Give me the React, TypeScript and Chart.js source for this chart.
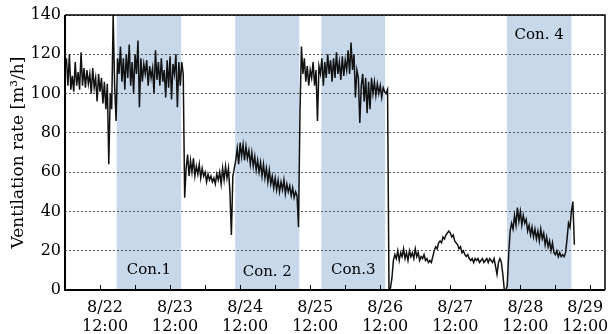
import React, { useEffect, useRef } from "react";
import { Chart, registerables } from "chart.js";

Chart.register(...registerables);

// ---- data (hours counted from 8/22 00:00, one reading every 0.5 h) ----
const SAMPLE_STEP_HOURS = 0.5;
const segmentStarts = [0.5, 18.5, 40.5, 58.5, 81.5, 88.5, 111, 151.5];

const beforeCon1 = [118, 104, 120, 102, 109, 101, 116, 104, 111, 102, 121, 104, 113, 103, 112, 105, 110, 100, 113, 103, 108, 96, 110, 101, 108, 95, 106, 92, 105, 64, 100, 92, 140, 104, 86, 118];
const con1 = [110, 124, 106, 118, 102, 120, 108, 125, 104, 116, 100, 120, 110, 127, 93, 118, 106, 115, 110, 117, 104, 114, 108, 113, 100, 122, 107, 116, 104, 118, 106, 112, 98, 117, 103, 119, 97, 115, 110, 120, 93, 116, 104, 116];
const between12 = [110, 47, 62, 69, 58, 66, 60, 67, 58, 63, 59, 64, 57, 62, 58, 60, 55, 59, 56, 58, 55, 57, 54, 59, 56, 60, 54, 62, 56, 63, 57, 62, 50, 28, 58, 62];
const con2 = [66, 72, 64, 75, 68, 74, 66, 73, 67, 71, 64, 70, 63, 68, 61, 66, 60, 65, 58, 64, 57, 62, 55, 61, 54, 58, 52, 57, 51, 56, 50, 55, 51, 56, 49, 54, 50, 53, 48, 52, 47, 50, 48, 32, 90, 124];
const between23 = [110, 118, 106, 114, 104, 112, 108, 116, 104, 112, 86, 114, 110, 118];
const con3 = [104, 116, 108, 120, 110, 117, 106, 118, 108, 121, 110, 116, 107, 119, 109, 117, 112, 122, 110, 126, 112, 120, 98, 112, 108, 85, 104, 110, 96, 108, 90, 106, 92, 108, 100, 106, 99, 105, 100, 104, 98, 103, 101, 100, 102];
const between34 = [0, 1, 6, 15, 18, 16, 20, 15, 19, 17, 21, 16, 19, 15, 20, 17, 19, 16, 21, 17, 19, 15, 17, 16, 18, 15, 16, 14, 15, 14, 17, 20, 22, 21, 24, 25, 24, 27, 26, 28, 29, 30, 29, 27, 28, 25, 24, 23, 21, 22, 19, 20, 18, 17, 18, 16, 15, 16, 14, 16, 15, 16, 14, 15, 16, 14, 15, 16, 14, 16, 15, 14, 16, 12, 8, 14, 16, 14, 8, 0, 0];
const con4 = [2, 18, 30, 34, 31, 38, 33, 42, 35, 40, 33, 38, 34, 36, 30, 33, 28, 32, 27, 31, 26, 30, 25, 31, 26, 29, 23, 27, 22, 25, 20, 24, 19, 18, 20, 17, 19, 17, 18, 17, 19, 26, 34, 32, 40, 45, 23];

const segments = [beforeCon1, con1, between12, con2, between23, con3, between34, con4];

const dayTickHours = [12, 36, 60, 84, 108, 132, 156, 180];
const dayLabels = ["8/22", "8/23", "8/24", "8/25", "8/26", "8/27", "8/28", "8/29"];
const timeLabel = "12:00";

const conditionNames = ["Con.1", "Con. 2", "Con.3", "Con. 4"];
const conditionStart = [17.7, 58.3, 87.8, 151.4];
const conditionEnd = [39.8, 80.3, 109.7, 173.5];
const conditionLabelValue = [10.2, 9.2, 10.2, 129.8];

const X_MIN = 0;
const X_MAX = 185;
const Y_MIN = 0;
const Y_MAX = 140;
const Y_STEP = 20;
const X_STEP = 12;

// ---- styles ----
const FONT = "'DejaVu Serif', serif";
const BAND_COLOR = "rgb(200,216,235)";
const LINE_COLOR = "#111111";
const LAST_LABEL_PAD = "    "; // keeps the last date label inside the canvas

const overlayPlugin = {
  id: "overlay",
  beforeDraw(chart: any) {
    const { ctx, chartArea, scales } = chart;
    ctx.save();
    ctx.fillStyle = BAND_COLOR;
    for (let i = 0; i < conditionStart.length; i++) {
      const x1 = scales.x.getPixelForValue(conditionStart[i]);
      const x2 = scales.x.getPixelForValue(conditionEnd[i]);
      ctx.fillRect(x1, chartArea.top, x2 - x1, chartArea.bottom - chartArea.top);
    }
    ctx.restore();
  },
  afterDatasetsDraw(chart: any) {
    const { ctx, chartArea, scales } = chart;
    ctx.save();
    // condition labels
    ctx.fillStyle = "#000";
    ctx.font = `15px ${FONT}`;
    ctx.textAlign = "center";
    ctx.textBaseline = "middle";
    for (let i = 0; i < conditionNames.length; i++) {
      const cx = scales.x.getPixelForValue((conditionStart[i] + conditionEnd[i]) / 2);
      const cy = scales.y.getPixelForValue(conditionLabelValue[i]);
      ctx.fillText(conditionNames[i], cx, cy);
    }
    // inner tick marks on x axis
    ctx.strokeStyle = "#000";
    ctx.lineWidth = 1;
    for (let v = X_STEP; v < X_MAX; v += X_STEP) {
      const x = Math.round(scales.x.getPixelForValue(v)) + 0.5;
      ctx.beginPath();
      ctx.moveTo(x, chartArea.bottom);
      ctx.lineTo(x, chartArea.bottom - 5);
      ctx.stroke();
    }
    // frame
    ctx.lineWidth = 1.5;
    ctx.beginPath();
    ctx.moveTo(chartArea.left, chartArea.top);
    ctx.lineTo(chartArea.right, chartArea.top);
    ctx.lineTo(chartArea.right, chartArea.bottom);
    ctx.stroke();
    ctx.lineWidth = 2;
    ctx.beginPath();
    ctx.moveTo(chartArea.left, chartArea.top);
    ctx.lineTo(chartArea.left, chartArea.bottom);
    ctx.lineTo(chartArea.right, chartArea.bottom);
    ctx.stroke();
    ctx.restore();
  },
};

export default function App() {
  const canvasRef = useRef<HTMLCanvasElement | null>(null);

  useEffect(() => {
    const points: { x: number; y: number }[] = [];
    segments.forEach((seg, s) => {
      seg.forEach((v, i) => {
        points.push({ x: segmentStarts[s] + i * SAMPLE_STEP_HOURS, y: v });
      });
    });

    const chart = new Chart(canvasRef.current as HTMLCanvasElement, {
      type: "line",
      data: {
        datasets: [
          {
            data: points,
            borderColor: LINE_COLOR,
            borderWidth: 1.5,
            pointRadius: 0,
            tension: 0,
            fill: false,
          },
        ],
      },
      options: {
        animation: false,
        responsive: false,
        devicePixelRatio: 1,
        layout: { padding: { top: 15, right: 8, left: 0, bottom: 0 } },
        plugins: {
          legend: { display: false },
          tooltip: { enabled: false },
        },
        scales: {
          x: {
            type: "linear",
            min: X_MIN,
            max: X_MAX,
            grid: { display: false, drawTicks: false },
            border: { display: false },
            afterFit: (scale: any) => {
              scale.height = 44;
              scale.paddingLeft = 0;
              scale.paddingRight = 0;
            },
            ticks: {
              stepSize: X_STEP,
              includeBounds: false,
              autoSkip: false,
              maxRotation: 0,
              minRotation: 0,
              padding: 9,
              labelOffset: 5,
              color: "#000",
              font: { family: FONT, size: 16, lineHeight: 1.15 },
              callback: (value: any) => {
                const idx = dayTickHours.indexOf(Number(value));
                if (idx < 0) return "";
                const pad = idx === dayTickHours.length - 1 ? LAST_LABEL_PAD : "";
                return [dayLabels[idx] + pad, timeLabel + pad];
              },
            },
          },
          y: {
            min: Y_MIN,
            max: Y_MAX,
            grid: { color: "#555", lineWidth: 1, drawTicks: false },
            border: { display: false, dash: [2, 2] },
            afterFit: (scale: any) => {
              scale.width = 65;
            },
            ticks: {
              stepSize: Y_STEP,
              padding: 4,
              color: "#000",
              font: { family: FONT, size: 16 },
            },
            title: {
              display: true,
              text: "Ventilation rate [m³/h]",
              color: "#000",
              font: { family: FONT, size: 17 },
              padding: { top: 8, bottom: 0 },
            },
          },
        },
      },
      plugins: [overlayPlugin],
    });
    return () => chart.destroy();
  }, []);

  return (
    <div style={{ position: "fixed", left: 0, top: 0, width: 613, height: 334, background: "#fff" }}>
      <canvas ref={canvasRef} width={613} height={334} style={{ display: "block" }} />
    </div>
  );
}
